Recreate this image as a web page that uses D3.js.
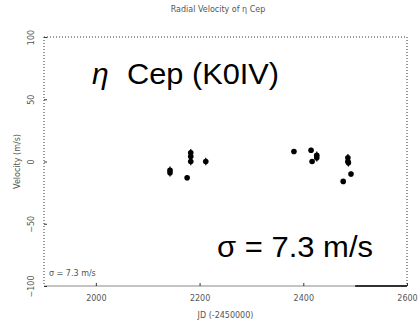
<!DOCTYPE html>
<html>
<head>
<meta charset="utf-8">
<script src="https://cdn.jsdelivr.net/npm/d3@7"></script>
<style>
  html, body { margin: 0; padding: 0; background: #fff; }
  svg { display: block; }
  .small { font-family: "DejaVu Sans", sans-serif; font-size: 8px; fill: #555; }
  .big { font-family: "Liberation Sans", Arial, sans-serif; fill: #000; }
</style>
</head>
<body>
<script>
// Radial velocity observations: Julian date (minus 2450000) and velocity in m/s
const jd = [2143, 2143, 2176, 2183, 2183, 2183, 2212, 2382, 2415, 2426, 2426, 2417, 2486, 2486, 2487, 2492, 2477];
const velocity = [-9, -7, -13, 7, 4, 0, 0, 8, 9, 5, 3, 0, 3, 0, -1, -10, -16];
const errors = [3, 3, 2, 3, 3, 3, 3, 2, 2, 3, 3, 2, 3, 3, 3, 2, 2];
const xTicks = [2000, 2200, 2400, 2600];
const yTicks = [-100, -50, 0, 50, 100];

const W = 420, H = 328;
const svg = d3.select("body").append("svg").attr("width", W).attr("height", H);

const x = d3.scaleLinear().domain([1900, 2600]).range([44, 407]);
const y = d3.scaleLinear().domain([-100, 100]).range([286, 37]);

const frameColor = "#333";

// Plot frame: dotted top and sides, solid baseline
svg.append("line").attr("x1", x(1900)).attr("x2", x(2600)).attr("y1", y(100)).attr("y2", y(100))
  .attr("stroke", frameColor).attr("stroke-width", 1).attr("stroke-dasharray", "1,2");
svg.append("line").attr("x1", x(1900)).attr("x2", x(1900)).attr("y1", y(100)).attr("y2", y(-100))
  .attr("stroke", frameColor).attr("stroke-width", 1).attr("stroke-dasharray", "1,2");
svg.append("line").attr("x1", x(2600)).attr("x2", x(2600)).attr("y1", y(100)).attr("y2", y(-100))
  .attr("stroke", frameColor).attr("stroke-width", 1).attr("stroke-dasharray", "1,2");
svg.append("line").attr("x1", x(1900)).attr("x2", x(2600)).attr("y1", y(-100)).attr("y2", y(-100))
  .attr("stroke", "#888").attr("stroke-width", 1);
svg.append("line").attr("x1", x(2500)).attr("x2", x(2600)).attr("y1", y(-100)).attr("y2", y(-100))
  .attr("stroke", "#000").attr("stroke-width", 1.6);

// Axes
const xAxis = d3.axisBottom(x).tickValues(xTicks).tickFormat(d3.format("d")).tickSize(3).tickPadding(6);
const gx = svg.append("g").attr("transform", `translate(0,${y(-100)})`).call(xAxis);
gx.select(".domain").remove();
gx.selectAll(".tick line").attr("stroke", "#333").attr("transform", "translate(0,-3)");
gx.selectAll(".tick text").attr("class", "small").attr("font-size", null).attr("font-family", null).attr("fill", null);

const yAxis = d3.axisLeft(y).tickValues(yTicks).tickFormat(d3.format("d")).tickSize(3).tickPadding(7);
const gy = svg.append("g").attr("transform", `translate(${x(1900)},0)`).call(yAxis);
gy.select(".domain").remove();
gy.selectAll(".tick line").attr("stroke", "#333").attr("transform", "translate(3,0)");
gy.selectAll(".tick text")
  .attr("class", "small").attr("font-size", null).attr("font-family", null).attr("fill", null)
  .attr("text-anchor", "middle").attr("dy", null).attr("x", null)
  .attr("transform", "translate(-10,0) rotate(-90)");

// Titles
svg.append("text").attr("class", "small").attr("x", 218).attr("y", 12).attr("text-anchor", "middle")
  .text("Radial Velocity of η Cep");
svg.append("text").attr("class", "small").attr("x", (x(1900) + x(2600)) / 2).attr("y", 318).attr("text-anchor", "middle")
  .text("JD (-2450000)");
svg.append("text").attr("class", "small").attr("text-anchor", "middle")
  .attr("transform", `translate(20,${y(0)}) rotate(-90)`)
  .text("Velocity (m/s)");
svg.append("text").attr("class", "small").attr("x", 49).attr("y", 276).text("σ = 7.3 m/s");

// Annotations
svg.append("text").attr("class", "big").attr("x", 92).attr("y", 84).attr("font-size", 30)
  .attr("font-style", "italic").attr("font-family", "Liberation Serif, serif").text("η");
svg.append("text").attr("class", "big").attr("x", 127).attr("y", 84).attr("font-size", 30)
  .attr("textLength", 152).attr("lengthAdjust", "spacingAndGlyphs").text("Cep (K0IV)");
svg.append("text").attr("class", "big").attr("x", 217).attr("y", 257).attr("font-size", 30)
  .attr("textLength", 156).attr("lengthAdjust", "spacingAndGlyphs").text("σ = 7.3 m/s");

// Data: error bars and points
const pts = jd.map((d, i) => ({ t: d, v: velocity[i], e: errors[i] }));
svg.append("g").selectAll("line").data(pts).join("line")
  .attr("x1", d => x(d.t)).attr("x2", d => x(d.t))
  .attr("y1", d => y(d.v + d.e)).attr("y2", d => y(d.v - d.e))
  .attr("stroke", "#000").attr("stroke-width", 1.2);
svg.append("g").selectAll("circle").data(pts).join("circle")
  .attr("cx", d => x(d.t)).attr("cy", d => y(d.v)).attr("r", 2.8).attr("fill", "#000");
</script>
</body>
</html>
